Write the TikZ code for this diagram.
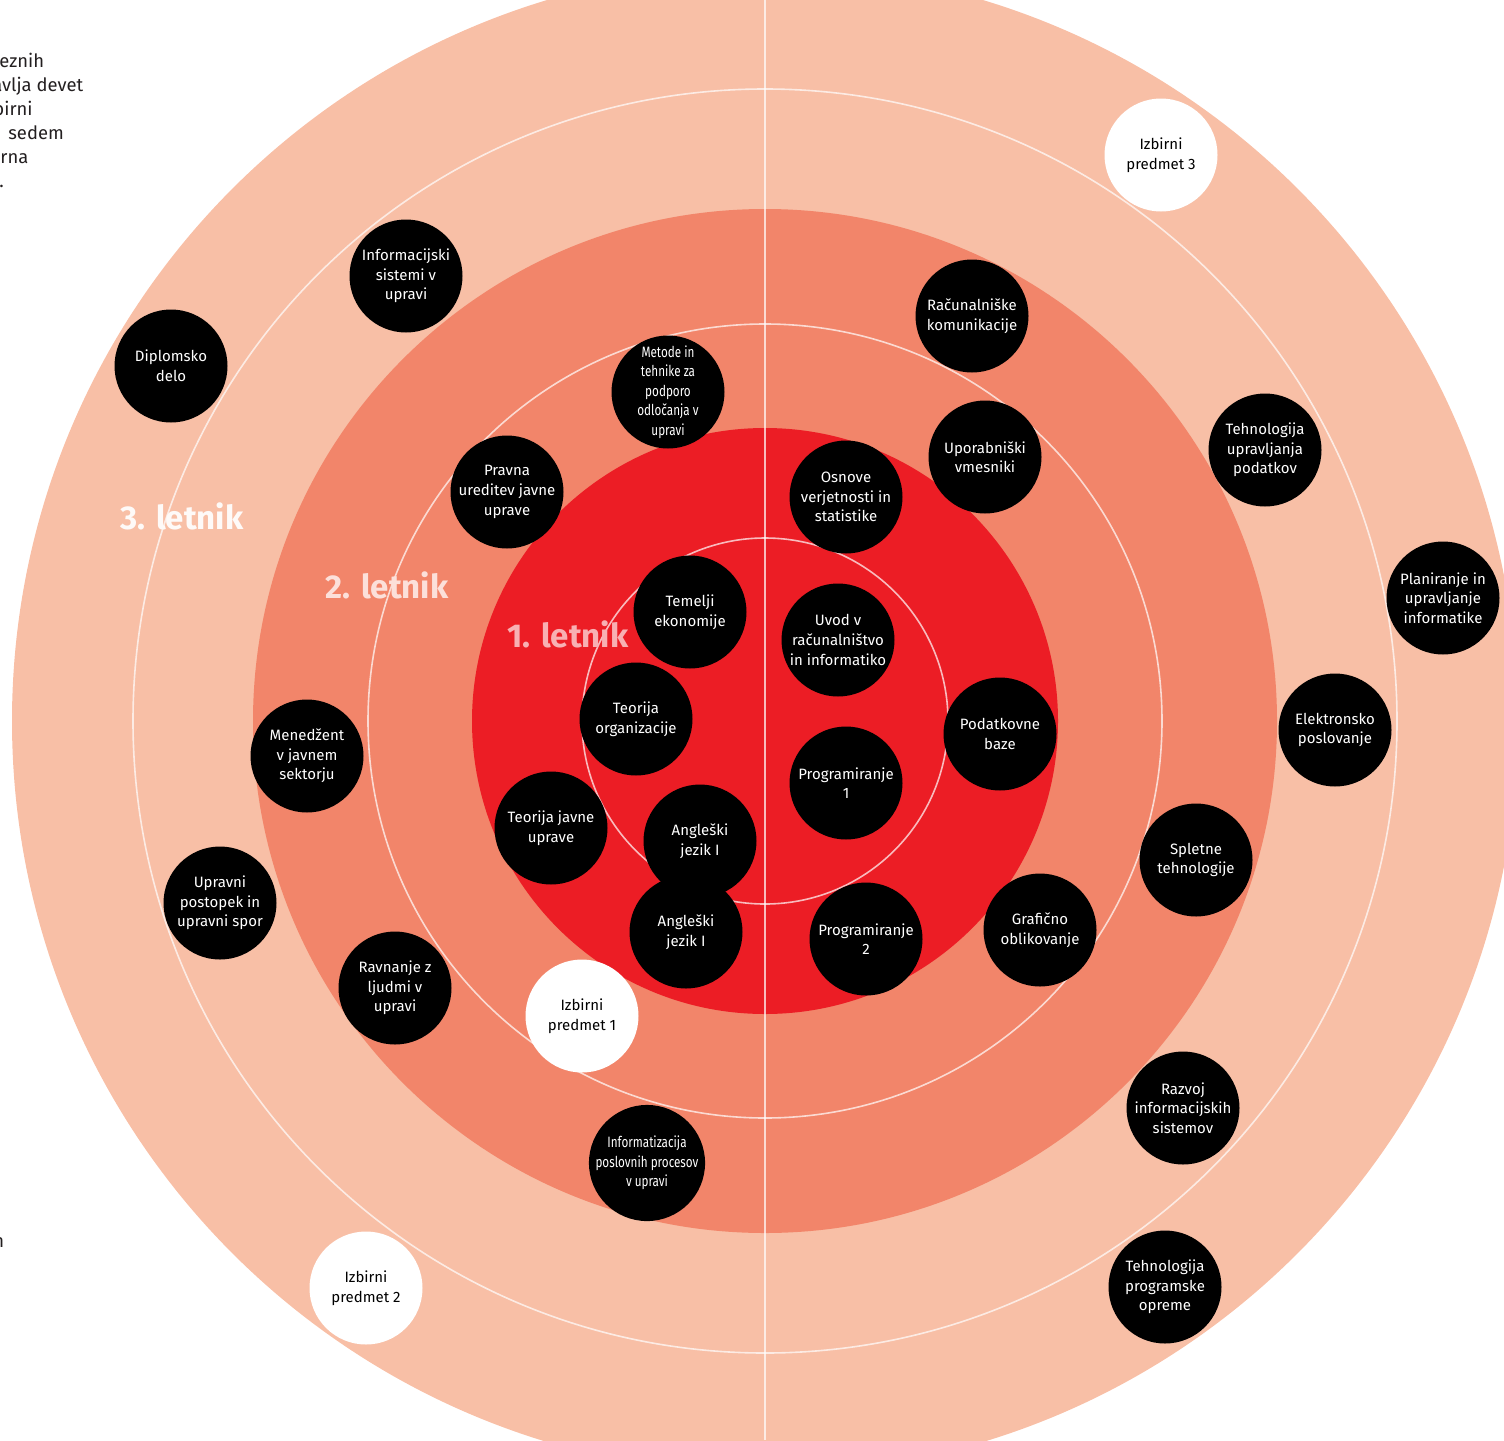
\documentclass[tikz,border=0pt]{standalone}
\usepackage{fontspec}
\setmainfont{Fira Sans}
\newfontfamily\narrowfont[FakeStretch=0.78]{Fira Sans}
\usetikzlibrary{positioning}
\definecolor{ringthree}{HTML}{F8BFA6}
\definecolor{ringtwo}{HTML}{F2856A}
\definecolor{ringone}{HTML}{EC1D25}
\definecolor{textdark}{HTML}{231F20}
\tikzset{course/.style={circle,fill=black,text=white,minimum size=56.5pt,inner sep=0pt,align=center,font=\fontsize{7.5}{9.8}\selectfont},
elective/.style={course,fill=white,text=black},
narrow/.style={course,font=\narrowfont\fontsize{7.5}{9.8}\selectfont},
guide/.style={white,opacity=0.7,line width=0.8pt},
yearlabel/.style={anchor=base,font=\bfseries\fontsize{16.5}{16.5}\selectfont},
fragment/.style={anchor=base west,inner sep=0pt,text=textdark,font=\fontsize{9.2}{12}\selectfont}}

\begin{document}
\begin{tikzpicture}[x=0.5pt,y=-0.5pt]
\useasboundingbox (0,0) rectangle (1504,1440);
\clip (0,0) rectangle (1504,1440);

% rings
\coordinate (c) at (765,721);
\fill[ringthree] (c) circle (376.5pt);
\fill[ringtwo] (c) circle (256pt);
\fill[ringone] (c) circle (146.5pt);
\foreach \r in {91.5pt, 198.5pt, 316pt} {
\draw[guide] (c) circle (\r);
}
\draw[guide] (765,0) -- (765,1440);

% year labels
\node (y3) at (182,529) [yearlabel, text=white!92!ringthree] {3. letnik};
\node (y2) at (387,598) [yearlabel, text=white!75!ringtwo] {2. letnik};
\node (y1) at (568,647) [yearlabel, text=white!65!ringone] {1. letnik};

% text cut off at the left edge
\node (f1) at (-1,67) [fragment] {eznih};
\node (f2) at (-8,91) [fragment] {avlja devet};
\node (f3) at (-7,115) [fragment] {birni};
\node (f4) at (8,139) [fragment] {sedem};
\node (f5) at (0,163) [fragment] {rna};
\node (f6) at (-1,187) [fragment] {.};
\node (f7) at (-7,1247) [fragment] {n};

% courses
\foreach \name/\kind/\pos/\txt in {
infsis/course/{406,276}/{Informacijski\\sistemi v\\upravi},
diplomsko/course/{171,366}/{Diplomsko\\delo},
izbirni3/elective/{1161,155}/{Izbirni\\predmet 3},
racom/course/{972,316}/{Računalniške\\komunikacije},
metode/narrow/{668,392}/{Metode in\\tehnike za\\podporo\\odločanja v\\upravi},
tehpod/course/{1265,450}/{Tehnologija\\upravljanja\\podatkov},
vmesniki/course/{985,457}/{Uporabniški\\vmesniki},
pravna/course/{507,492}/{Pravna\\ureditev javne\\uprave},
osnove/course/{846,497}/{Osnove\\verjetnosti in\\statistike},
planiranje/course/{1443,598}/{Planiranje in\\upravljanje\\informatike},
temelji/course/{690,612}/{Temelji\\ekonomije},
uvod/course/{838,640}/{Uvod v\\računalništvo\\in informatiko},
teorg/course/{636,719}/{Teorija\\organizacije},
menedzent/course/{307,756}/{Menedžent\\v javnem\\sektorju},
eposl/course/{1335,730}/{Elektronsko\\poslovanje},
baze/course/{1000,734}/{Podatkovne\\baze},
prog1/course/{846,783}/{Programiranje\\1},
tju/course/{551,828}/{Teorija javne\\uprave},
anga/course/{700,841}/{Angleški\\jezik I},
spletne/course/{1196,860}/{Spletne\\tehnologije},
upravni/course/{220,903}/{Upravni\\postopek in\\upravni spor},
angb/course/{686,932}/{Angleški\\jezik I},
prog2/course/{866,939}/{Programiranje\\2},
graficno/course/{1040,930}/{Grafično\\oblikovanje},
ravnanje/course/{395,988}/{Ravnanje z\\ljudmi v\\upravi},
izbirni1/elective/{582,1016}/{Izbirni\\predmet 1},
razvoj/course/{1183,1108}/{Razvoj\\informacijskih\\sistemov},
informatizacija/narrow/{647,1163}/{Informatizacija\\poslovnih procesov\\v upravi},
izbirni2/elective/{366,1288}/{Izbirni\\predmet 2},
tehprog/course/{1165,1287}/{Tehnologija\\programske\\opreme}} {
\node (\name) at (\pos) [\kind] {\txt};
}

\end{tikzpicture}
\end{document}
